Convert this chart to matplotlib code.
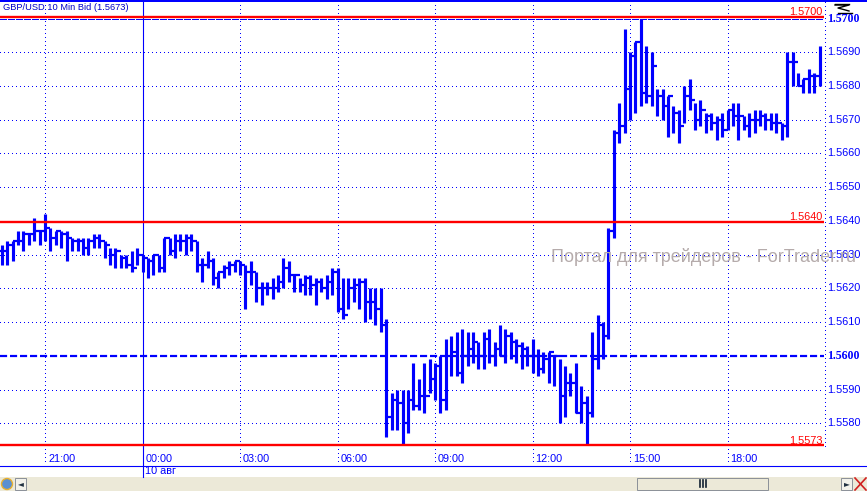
# -*- coding: utf-8 -*-
import matplotlib
matplotlib.use("Agg")
import matplotlib.pyplot as plt
from matplotlib.patches import Rectangle, Circle

# дanные в пунктах: 5633 -> 1.5633
highs = [5633,5634,5634,5637,5637,5636,5641,5637,5642,5638,5637,5637,5637,5635,5635,5635,5635,5636,5636,5634,
         5632,5632,5630,5630,5631,5632,5630,5629,5630,5630,5635,5635,5636,5636,5636,5636,5634,5629,5631,5629,
         5625,5627,5628,5628,5628,5627,5628,5625,5622,5622,5623,5624,5629,5628,5624,5623,5624,5624,5623,5623,
         5624,5626,5626,5623,5623,5623,5623,5623,5620,5620,5620,5611,5589,5590,5590,5590,5598,5593,5598,5599,
         5598,5600,5605,5606,5607,5608,5607,5607,5604,5607,5608,5604,5609,5608,5607,5605,5604,5603,5605,5602,
         5601,5601,5600,5599,5597,5595,5598,5591,5588,5607,5612,5610,5638,5667,5675,5697,5690,5693,5700,5692,
         5690,5679,5679,5677,5674,5673,5680,5682,5675,5676,5672,5672,5671,5672,5673,5675,5675,5671,5672,5673,
         5673,5672,5672,5672,5669,5690,5690,5684,5682,5685,5684,5692]
lows = [5627,5627,5628,5633,5631,5633,5634,5633,5634,5631,5633,5632,5628,5631,5631,5630,5630,5632,5632,5629,
        5627,5626,5626,5626,5625,5627,5625,5623,5624,5625,5625,5630,5629,5631,5630,5631,5625,5622,5626,5621,
        5620,5623,5624,5625,5624,5614,5621,5616,5615,5618,5617,5619,5620,5622,5619,5619,5618,5618,5615,5619,
        5617,5618,5613,5611,5614,5616,5614,5610,5611,5609,5607,5576,5578,5578,5574,5577,5584,5584,5583,5589,
        5587,5583,5584,5594,5594,5592,5597,5598,5596,5596,5598,5597,5600,5598,5599,5598,5596,5597,5595,5594,
        5595,5592,5591,5580,5582,5588,5583,5580,5574,5582,5596,5599,5605,5635,5663,5666,5670,5672,5674,5675,
        5674,5671,5670,5665,5666,5663,5669,5673,5667,5668,5666,5667,5664,5665,5667,5668,5664,5667,5665,5666,
        5668,5667,5667,5666,5664,5665,5680,5680,5678,5678,5678,5680]
opens = [5631,5631,5633,5634,5634,5636,5636,5637,5637,5638,5635,5637,5636,5635,5634,5634,5632,5634,5635,5634,
         5633,5630,5631,5629,5627,5626,5630,5629,5628,5630,5626,5635,5631,5634,5634,5635,5634,5627,5627,5628,
         5623,5625,5626,5627,5628,5627,5625,5625,5620,5620,5620,5620,5622,5626,5624,5624,5621,5623,5621,5622,
         5620,5622,5625,5614,5612,5620,5621,5622,5616,5616,5614,5609,5582,5587,5586,5580,5587,5585,5588,5588,
         5593,5597,5587,5600,5601,5595,5600,5602,5604,5600,5605,5600,5602,5600,5606,5604,5603,5602,5600,5600,
         5596,5599,5601,5600,5588,5592,5592,5583,5586,5583,5599,5609,5606,5637,5666,5668,5679,5689,5693,5678,
         5677,5686,5677,5674,5677,5672,5668,5677,5676,5670,5673,5671,5669,5670,5667,5673,5671,5671,5668,5670,
         5670,5671,5670,5669,5669,5668,5687,5687,5680,5682,5683,5683]
closes = [5631,5633,5634,5634,5636,5636,5637,5637,5638,5635,5637,5636,5635,5634,5634,5632,5634,5635,5634,5633,
          5630,5631,5629,5627,5626,5630,5629,5628,5630,5626,5635,5631,5634,5634,5635,5634,5627,5627,5628,5623,
          5625,5626,5627,5628,5627,5625,5625,5620,5620,5620,5620,5622,5626,5624,5624,5621,5623,5621,5622,5620,
          5622,5625,5614,5612,5620,5621,5622,5616,5616,5614,5609,5582,5587,5586,5580,5587,5585,5588,5588,5593,
          5597,5587,5600,5601,5595,5600,5602,5604,5600,5605,5600,5602,5600,5606,5604,5603,5602,5600,5600,5596,
          5599,5601,5600,5588,5592,5592,5583,5586,5583,5599,5609,5606,5637,5666,5668,5679,5689,5693,5678,5677,
          5686,5677,5674,5677,5672,5668,5677,5676,5670,5673,5671,5669,5670,5667,5673,5671,5671,5668,5670,5670,
          5671,5670,5669,5669,5668,5687,5687,5680,5682,5683,5683,5689]

price_ticks = [5580,5590,5610,5620,5630,5640,5650,5660,5670,5680,5690]
time_bars = [8,26,44,62,80,98,116,134]
time_labels = ["21:00","00:00","03:00","06:00","09:00","12:00","15:00","18:00"]
red_levels = [5700.6,5639.8,5573.6]
red_labels = ["1.5700","1.5640","1.5573"]
bold_ticks = [5600,5700]

BLUE = "#0000FF"
RED = "#FF0000"
W, H = 867, 491
DOT = (0, (1, 3))

plt.rcParams['font.family'] = ['Liberation Sans', 'DejaVu Sans']
fig = plt.figure(figsize=(W/100, H/100), dpi=100, facecolor="white")

# окно с графиком
ax = fig.add_axes([0, (H-465)/H, 824/W, 465/H])
ax.set_xlim(-0.308, 151.8)
ax.set_ylim(5567.64, 5705.5)
ax.axis("off")

# сетка
for p in price_ticks:
    ax.axhline(p, color=BLUE, lw=0.72, ls=DOT, antialiased=False)
for b in time_bars:
    if b != 26:
        ax.axvline(b, color=BLUE, lw=0.72, ls=DOT, antialiased=False)
ax.axhline(5700, color=BLUE, lw=0.72, ls=(0, (6, 2)), antialiased=False)
ax.axhline(5600, color=BLUE, lw=1.6, ls=(0, (3.2, 1.3)))
ax.axvline(26, color=BLUE, lw=0.8)

# бары
for i in range(len(highs)):
    ax.vlines(i, lows[i], highs[i], color=BLUE, lw=2.25, zorder=3)
    ax.hlines(opens[i], i-0.5, i, color=BLUE, lw=1.6, zorder=3)
    ax.hlines(closes[i], i, i+0.5, color=BLUE, lw=1.6, zorder=3)

for p in red_levels:
    ax.axhline(p, color=RED, lw=1.7, zorder=4)

# рамка, подписи и панель внизу - в пикселях
ui = fig.add_axes([0, 0, 1, 1], facecolor="none")
ui.set_xlim(0, W)
ui.set_ylim(H, 0)
ui.axis("off")

ui.plot([0, W], [1, 1], color=BLUE, lw=1.44)
ui.plot([0, W], [465.5, 465.5], color=BLUE, lw=0.8)
ui.plot([824.5, 824.5], [2, 450], color=BLUE, lw=0.72, ls=DOT, antialiased=False)
ui.plot([142.5, 142.5], [465, 477], color=BLUE, lw=0.8)

ui.text(3, 7.5, "GBP/USD 10 Min Bid (1.5673)", color="#0000C8", fontsize=6.7, va="center")

for b, s in zip(time_bars, time_labels):
    px = 1.67 + 5.417*b
    ui.text(px+3, 459, s, color=BLUE, fontsize=7.8, va="center", ha="left")
ui.text(145, 471.5, "10 авг", color=BLUE, fontsize=7.8, va="center", ha="left")

for p in price_ticks:
    py = 423.3 - (p-5580)*3.373
    ui.text(827, py, "1.%d" % p, color=BLUE, fontsize=7.8, va="center", ha="left")
for p in bold_ticks:
    py = 423.3 - (p-5580)*3.373
    ui.text(827, py, "1.%d" % p, color=BLUE, fontsize=8.6, va="center", ha="left",
            fontweight="bold", family=["Liberation Serif"])

for y, s in zip([11.5, 217, 441], red_labels):
    ui.text(822.5, y, s, color=RED, fontsize=7.8, va="center", ha="right", zorder=6)

ui.text(551, 256.5, "Портал для трейдеров - ForTrader.ru", color="#B5ABAB", fontsize=13,
        va="center", ha="left", zorder=7)

# значок в правом верхнем углу
ui.plot([835, 849], [3.5, 3.5], color="black", lw=1)
ui.plot([835, 849, 838, 849], [5, 5, 8, 11], color="black", lw=1)
ui.plot([838, 852], [12.5, 12.5], color="black", lw=1)

# панель с прокруткой
ui.add_patch(Rectangle((0, 477), W, 14, fc="#ECE9D8", ec="none"))
ui.add_patch(Circle((7, 484), 5.5, fc="#5B8FD0", ec="#E8B030", lw=1))
ui.add_patch(Rectangle((15, 478), 11, 12, fc="#F2F1EA", ec="#8A9098", lw=0.7))
ui.text(20.5, 484, "◄", color="#203040", fontsize=5.5, ha="center", va="center", family=["DejaVu Sans"])
ui.add_patch(Rectangle((637, 477.5), 131, 12, fc="#ECE9D8", ec="#8A9098", lw=0.7))
for x in [700, 703, 706]:
    ui.plot([x, x], [480, 487], color="#102030", lw=1.2)
ui.add_patch(Rectangle((841, 478), 11, 12, fc="#F2F1EA", ec="#8A9098", lw=0.7))
ui.text(846.5, 484, "►", color="#203040", fontsize=5.5, ha="center", va="center", family=["DejaVu Sans"])
ui.plot([855, 866], [478, 490], color="#D02020", lw=1.2)
ui.plot([855, 866], [490, 478], color="#D02020", lw=1.2)

fig.savefig("out.png", dpi=100)
